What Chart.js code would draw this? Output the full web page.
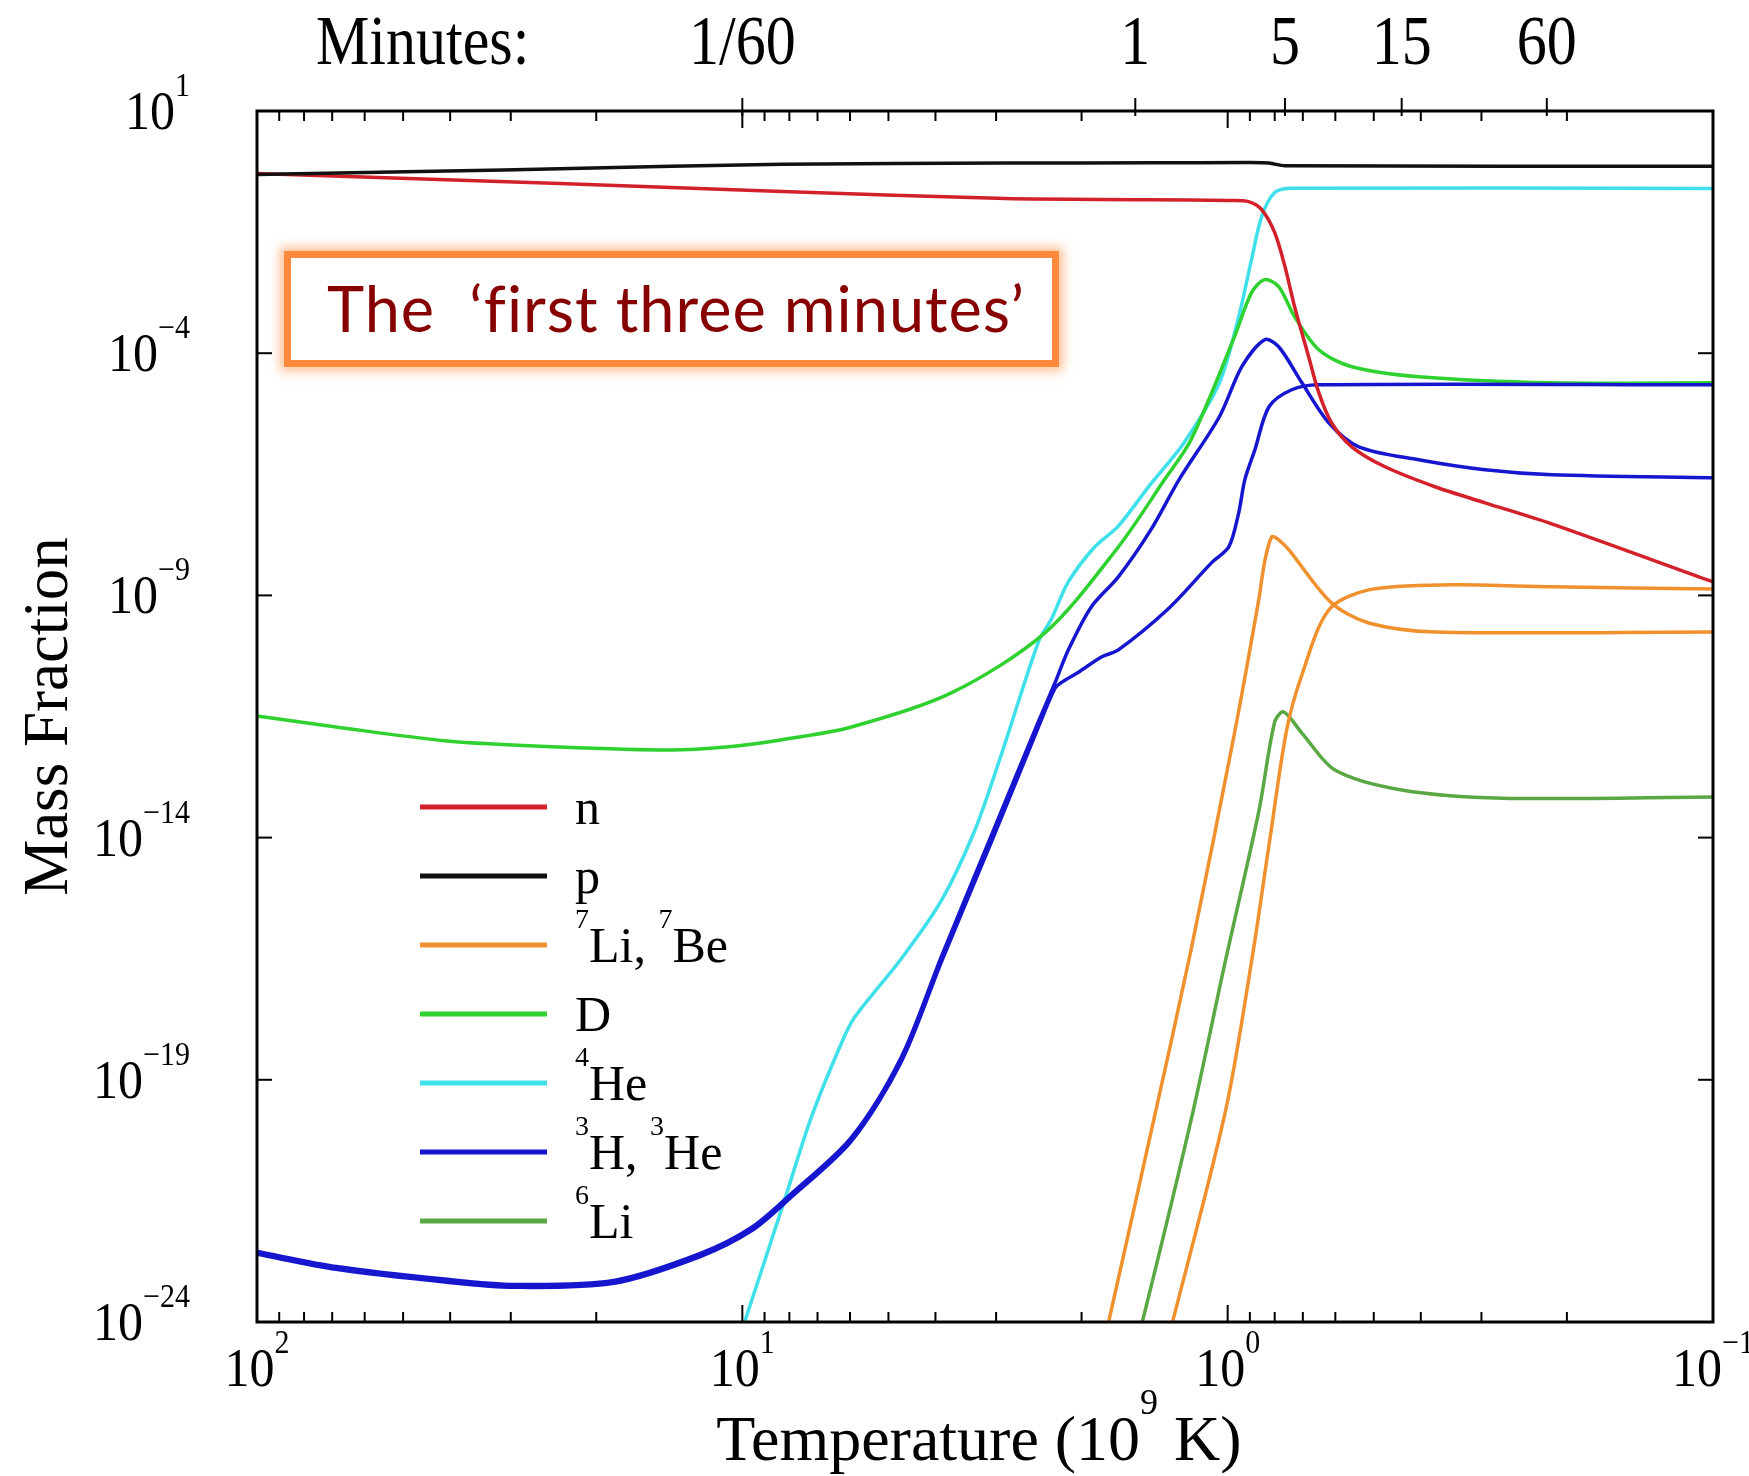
<!DOCTYPE html>
<html>
<head>
<meta charset="utf-8">
<title>Big Bang nucleosynthesis - mass fractions</title>
<script src="https://cdn.jsdelivr.net/npm/chart.js@4"></script>
<style>
    html, body { margin: 0; padding: 0; background: #fff; overflow: hidden; }
    #wrap { position: relative; width: 1749px; height: 1476px; }
    #note {
        position: absolute; left: 284px; top: 251px; width: 775px; height: 116px;
        box-sizing: border-box; border: 7px solid #ff8a3d; background: #fff;
        box-shadow: 0 0 10px 4px rgba(255, 138, 61, 0.55);
        color: #870000; font-family: Lato, "Open Sans", sans-serif; font-size: 63px;
        letter-spacing: 1px; line-height: 100px; padding-left: 36px; white-space: pre;
    }
</style>
</head>
<body>
<div id="wrap">
    <canvas id="chart" width="1749" height="1476"></canvas>
    <div id="note">The  ‘first three minutes’</div>
</div>
<script>
// temperature in 10^9 K, values are mass fractions
const nT = [100, 23.8, 8.27, 2.87, 1.44, 0.995, 0.906, 0.851, 0.800, 0.762, 0.728, 0.681, 0.649, 0.611, 0.555, 0.474, 0.374, 0.295, 0.215, 0.1];
const nY = [0.51, 0.318, 0.217, 0.156, 0.148, 0.142, 0.135, 0.0922, 0.0309, 6.12e-3, 9.14e-4, 8.47e-5, 1.53e-5, 3.66e-6, 1.17e-6, 4.52e-7, 1.75e-7, 8.15e-8, 3.0e-8, 1.9e-9];

const pT = [100, 40.6, 23.8, 8.27, 2.87, 1.44, 0.906, 0.822, 0.762, 0.1];
const pY = [0.49, 0.58, 0.64, 0.80, 0.84, 0.85, 0.86, 0.84, 0.74, 0.72];

const dT = [100, 68.7, 40.6, 23.8, 14.1, 10.8, 8.27, 5.96, 3.71, 2.38, 1.68, 1.35, 1.19, 0.968, 0.893, 0.839, 0.785, 0.728, 0.649, 0.555, 0.404, 0.215, 0.1];
const dY = [3.24e-12, 1.92e-12, 9.9e-13, 7.4e-13, 6.4e-13, 7.4e-13, 1.05e-12, 1.92e-12, 9.7e-12, 1.68e-10, 1.0e-8, 2.43e-7, 1.63e-6, 2.19e-4, 1.78e-3, 3.30e-3, 2.37e-3, 5.68e-4, 1.18e-4, 5.26e-5, 3.27e-5, 2.45e-5, 2.45e-5];

const he4T = [10.4, 9.9, 8.19, 7.21, 6.25, 5.87, 4.70, 3.89, 3.32, 2.93, 2.45, 2.31, 2.13, 1.88, 1.68, 1.44, 1.23, 1.04, 0.949, 0.893, 0.851, 0.800, 0.738, 0.1];
const he4Y = [2.3e-25, 9.8e-25, 3.24e-22, 1.68e-20, 5.7e-19, 1.95e-18, 3.2e-17, 5.0e-16, 1.4e-14, 5.0e-13, 1.15e-10, 3.2e-10, 1.9e-9, 1.0e-8, 2.7e-8, 2.0e-7, 1.42e-6, 2.45e-5, 5.68e-4, 8.55e-3, 0.0661, 0.207, 0.255, 0.25];

const h3T = [100, 68.7, 40.6, 29.5, 18.4, 12.2, 9.58, 7.92, 5.96, 4.70, 3.89, 3.07, 2.45, 2.27, 2.13, 1.91, 1.68, 1.44, 1.26, 1.04, 0.935, 0.839, 0.785, 0.703, 0.619, 0.537, 0.404, 0.295, 0.215, 0.1];
const h3Y = [2.86e-23, 1.40e-23, 7.6e-24, 5.96e-24, 7.2e-24, 2.60e-23, 8.9e-23, 4.5e-22, 6.5e-21, 3.0e-19, 3.5e-17, 1.1e-14, 2.6e-12, 1.55e-11, 7.48e-11, 5.78e-10, 2.41e-9, 2.25e-8, 2.43e-7, 4.88e-6, 5.26e-5, 1.90e-4, 1.36e-4, 2.45e-5, 3.66e-6, 1.17e-6, 6.31e-7, 3.92e-7, 3.09e-7, 2.68e-7];

const he3T = [100, 68.7, 40.6, 29.5, 18.4, 12.2, 9.58, 7.92, 5.96, 4.70, 3.89, 3.07, 2.45, 2.27, 2.20, 2.03, 1.82, 1.68, 1.32, 1.08, 0.995, 0.949, 0.922, 0.879, 0.822, 0.738, 0.649, 0.1];
const he3Y = [2.5e-23, 1.22e-23, 6.6e-24, 5.2e-24, 6.3e-24, 2.25e-23, 7.6e-23, 3.8e-22, 5.4e-21, 2.4e-19, 2.7e-17, 8.0e-15, 2.0e-12, 1.2e-11, 1.6e-11, 2.6e-11, 5.36e-11, 7.48e-11, 5.5e-10, 4.69e-9, 1.0e-8, 5.07e-8, 2.43e-7, 1.01e-6, 7.85e-6, 1.76e-5, 2.23e-5, 2.23e-5];

const li7T = [1.85, 1.76, 1.44, 1.19, 0.968, 0.863, 0.839, 0.811, 0.785, 0.748, 0.611, 0.512, 0.374, 0.1];
const li7Y = [1.2e-25, 9.8e-25, 7.9e-21, 4.74e-17, 1.44e-12, 8.07e-10, 5.0e-9, 1.62e-8, 1.40e-8, 8.71e-9, 7.0e-10, 2.70e-10, 1.76e-10, 1.76e-10];

const be7T = [1.37, 1.30, 1.01, 0.892, 0.819, 0.756, 0.703, 0.619, 0.512, 0.345, 0.215, 0.1];
const be7Y = [1.6e-25, 9.8e-25, 2.3e-20, 2.95e-17, 8.9e-15, 1.66e-12, 2.3e-11, 5.0e-10, 1.30e-9, 1.65e-9, 1.50e-9, 1.36e-9];

const li6T = [1.58, 1.50, 1.19, 1.01, 0.863, 0.800, 0.767, 0.703, 0.601, 0.438, 0.272, 0.1];
const li6Y = [1.6e-25, 9.8e-25, 1.45e-20, 2.95e-17, 3.4e-14, 2.45e-12, 3.92e-12, 1.44e-12, 2.48e-13, 9.6e-14, 6.5e-14, 6.9e-14];

// axis ticks
const tempMajorTicks = [100, 10, 1, 0.1];
const tempMinorTicks = [90, 80, 70, 60, 50, 40, 30, 20, 9, 8, 7, 6, 5, 4, 3, 2, 0.9, 0.8, 0.7, 0.6, 0.5, 0.4, 0.3, 0.2];
const massTicks = [1e1, 1e-4, 1e-9, 1e-14, 1e-19, 1e-24];
const minuteTicks = [10, 1.55, 0.762, 0.438, 0.22];
const minuteLabels = ['1/60', '1', '5', '15', '60'];

const colors = {
    n: '#d3212b', p: '#111111', li7: '#f0912e', d: '#2fd12f',
    he4: '#3fe0ea', h3: '#1616cf', li6: '#5aa844'
};

const legendRows = [
    { color: colors.n, parts: [{ text: 'n' }] },
    { color: colors.p, parts: [{ text: 'p' }] },
    { color: colors.li7, parts: [{ text: '7', sup: true }, { text: 'Li, ' }, { text: '7', sup: true }, { text: 'Be' }] },
    { color: colors.d, parts: [{ text: 'D' }] },
    { color: colors.he4, parts: [{ text: '4', sup: true }, { text: 'He' }] },
    { color: colors.h3, parts: [{ text: '3', sup: true }, { text: 'H, ' }, { text: '3', sup: true }, { text: 'He' }] },
    { color: colors.li6, parts: [{ text: '6', sup: true }, { text: 'Li' }] }
];

const SERIF = '"Liberation Serif", "DejaVu Serif", serif';
const tickFont = { size: 50, supSize: 30, rise: 30, stretch: 1.1, family: SERIF };
const topFont = { size: 60, supSize: 30, rise: 30, stretch: 1.15, family: SERIF };
const titleFont = { size: 64, supSize: 36, rise: 46, stretch: 1, family: SERIF };
const legendFont = { size: 50, supSize: 28, rise: 34, stretch: 1, family: SERIF };

function series(label, T, Y, color) {
    return {
        label: label,
        data: T.map((t, i) => ({ x: t, y: Y[i] })),
        borderColor: color,
        backgroundColor: color,
        borderWidth: 3.5,
        pointRadius: 0,
        fill: false,
        tension: 0.3,
        capBezierPoints: false,
        borderJoinStyle: 'round'
    };
}

function drawRich(ctx, parts, x, y, align, f) {
    const fontOf = p => `${p.sup ? f.supSize : f.size}px ${f.family}`;
    let total = 0;
    const widths = parts.map(p => {
        ctx.font = fontOf(p);
        const w = ctx.measureText(p.text).width;
        total += w;
        return w;
    });
    let cx = align === 'center' ? x - total / 2 : (align === 'right' ? x - total : x);
    ctx.save();
    ctx.translate(0, y);
    ctx.scale(1, f.stretch || 1);
    ctx.textAlign = 'left';
    ctx.textBaseline = 'alphabetic';
    parts.forEach((p, i) => {
        ctx.font = fontOf(p);
        ctx.fillText(p.text, cx, p.sup ? -f.rise : 0);
        cx += widths[i];
    });
    ctx.restore();
}

function powerParts(v) {
    const e = Math.round(Math.log10(v));
    return [{ text: '10' }, { text: e < 0 ? '\u2212' + (-e) : String(e), sup: true }];
}

const axesPlugin = {
    id: 'bbnAxes',
    afterDatasetsDraw(chart) {
        const ctx = chart.ctx;
        const a = chart.chartArea;
        const xs = chart.scales.x, ys = chart.scales.y;
        const seg = (x1, y1, x2, y2) => { ctx.beginPath(); ctx.moveTo(x1, y1); ctx.lineTo(x2, y2); ctx.stroke(); };

        ctx.save();
        ctx.strokeStyle = '#000';
        ctx.fillStyle = '#000';
        ctx.lineWidth = 2;

        // inward ticks, bottom and top
        tempMinorTicks.forEach(t => {
            const px = xs.getPixelForValue(t);
            seg(px, a.bottom, px, a.bottom - 10);
            seg(px, a.top, px, a.top + 10);
        });
        tempMajorTicks.forEach(t => {
            const px = xs.getPixelForValue(t);
            seg(px, a.bottom, px, a.bottom - 17);
            seg(px, a.top, px, a.top + 17);
        });
        massTicks.forEach(v => {
            const py = ys.getPixelForValue(v);
            seg(a.left, py, a.left + 15, py);
            seg(a.right, py, a.right - 15, py);
        });
        minuteTicks.forEach(t => {
            const px = xs.getPixelForValue(t);
            seg(px, a.top - 13, px, a.top + 5);
        });

        ctx.lineWidth = 3;
        ctx.strokeRect(a.left, a.top, a.right - a.left, a.bottom - a.top);

        // tick labels
        massTicks.forEach(v => drawRich(ctx, powerParts(v), a.left - 67, ys.getPixelForValue(v) + 18, 'right', tickFont));
        tempMajorTicks.forEach(t => drawRich(ctx, powerParts(t), xs.getPixelForValue(t), a.bottom + 64, 'center', tickFont));

        // time axis along the top
        drawRich(ctx, [{ text: 'Minutes:' }], 316, 64, 'left', topFont);
        minuteTicks.forEach((t, i) => drawRich(ctx, [{ text: minuteLabels[i] }], xs.getPixelForValue(t), 64, 'center', topFont));

        // axis titles
        drawRich(ctx, [{ text: 'Temperature (10' }, { text: '9', sup: true }, { text: ' K)' }], 979, 1460, 'center', titleFont);
        ctx.save();
        ctx.translate(67, (a.top + a.bottom) / 2);
        ctx.rotate(-Math.PI / 2);
        ctx.font = `63px ${SERIF}`;
        ctx.textAlign = 'center';
        ctx.textBaseline = 'alphabetic';
        ctx.fillText('Mass Fraction', 0, 0);
        ctx.restore();

        // legend
        legendRows.forEach((row, i) => {
            const ly = 807 + i * 69;
            ctx.strokeStyle = row.color;
            ctx.lineWidth = 5;
            seg(420, ly, 547, ly);
            drawRich(ctx, row.parts, 575, ly + 17, 'left', legendFont);
        });

        ctx.restore();
    }
};

new Chart(document.getElementById('chart'), {
    type: 'line',
    data: {
        datasets: [
            series('p', pT, pY, colors.p),
            series('n', nT, nY, colors.n),
            series('3H', h3T, h3Y, colors.h3),
            series('3He', he3T, he3Y, colors.h3),
            series('D', dT, dY, colors.d),
            series('4He', he4T, he4Y, colors.he4),
            series('7Li', li7T, li7Y, colors.li7),
            series('7Be', be7T, be7Y, colors.li7),
            series('6Li', li6T, li6Y, colors.li6)
        ]
    },
    options: {
        responsive: false,
        animation: false,
        layout: { padding: { left: 257, right: 36, top: 111, bottom: 154 } },
        plugins: { legend: { display: false }, tooltip: { enabled: false } },
        scales: {
            x: { type: 'logarithmic', min: 0.1, max: 100, reverse: true, display: false },
            y: { type: 'logarithmic', min: 1e-24, max: 10, display: false }
        }
    },
    plugins: [axesPlugin]
});
</script>
</body>
</html>
